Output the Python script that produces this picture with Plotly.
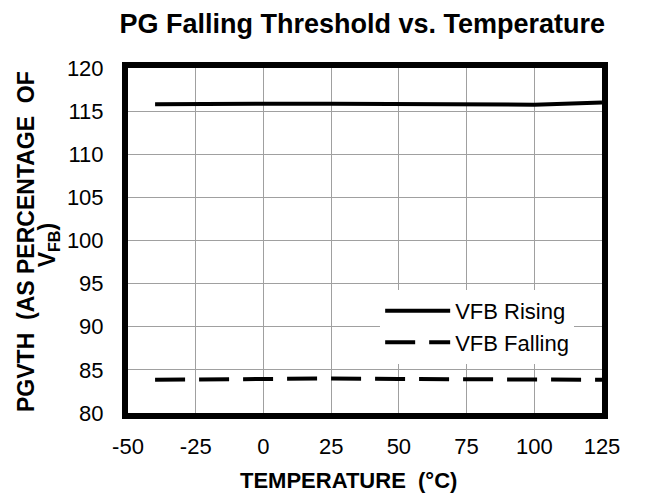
import plotly.graph_objects as go

temps = [-40, -25, 0, 25, 50, 75, 100, 125]
rising = [115.8, 115.85, 115.85, 115.85, 115.8, 115.75, 115.75, 116.0]
falling = [83.85, 83.9, 83.9, 84.0, 83.95, 83.9, 83.85, 83.85]

x_ticks = [-50, -25, 0, 25, 50, 75, 100, 125]
y_ticks = [80, 85, 90, 95, 100, 105, 110, 115, 120]

FONT = "Liberation Sans, Arial, sans-serif"

fig = go.Figure()
fig.add_trace(go.Scatter(x=temps, y=rising, mode="lines", name="VFB Rising",
                         line=dict(color="black", width=4)))
fig.add_trace(go.Scatter(x=temps, y=falling, mode="lines", name="VFB Falling",
                         line=dict(color="black", width=4, dash="30px,14px")))

fig.update_layout(
    width=661, height=497,
    margin=dict(l=128, r=59, t=68, b=84),
    paper_bgcolor="white", plot_bgcolor="white",
    font=dict(family=FONT, color="black", size=22),
    title=dict(text="<b>PG Falling Threshold vs. Temperature</b>",
               font=dict(size=27, family=FONT, color="black"),
               x=0.548, xanchor="center", y=0.953, yanchor="middle"),
    legend=dict(x=0.532, y=0.357, xanchor="left", yanchor="top",
                bgcolor="rgba(255,255,255,1)", borderwidth=0,
                font=dict(size=22, family=FONT), itemwidth=65,
                tracegroupgap=0),
    showlegend=True,
    annotations=[
        dict(text="<b>PGVTH  (AS PERCENTAGE  OF</b>", xref="paper", yref="paper",
             x=-0.2152, y=0.4986, xanchor="center", yanchor="middle",
             textangle=-90, showarrow=False, font=dict(size=23, family=FONT)),
        dict(text="<b>V<sub>FB</sub>)</b>", xref="paper", yref="paper",
             x=-0.166, y=0.487, xanchor="center", yanchor="middle",
             textangle=-90, showarrow=False, font=dict(size=23, family=FONT)),
        dict(text="<b>TEMPERATURE  (°C)</b>", xref="paper", yref="paper",
             x=0.4662, y=-0.1971, xanchor="center", yanchor="middle",
             showarrow=False, font=dict(size=22, family=FONT)),
    ],
)
fig.update_xaxes(range=[-50, 125], tickvals=x_ticks, ticktext=[str(v) for v in x_ticks],
                 showgrid=True, gridcolor="#a0a0a0", gridwidth=1,
                 showline=True, linecolor="black", linewidth=6, mirror=True,
                 ticks="", zeroline=False, ticklabelstandoff=9)
fig.update_yaxes(range=[80, 120], tickvals=y_ticks, ticktext=[str(v) for v in y_ticks],
                 showgrid=True, gridcolor="#a0a0a0", gridwidth=1,
                 showline=True, linecolor="black", linewidth=6, mirror=True,
                 ticks="", zeroline=False, ticklabelstandoff=14)

fig.write_html("out.html", config={"displayModeBar": False},
               post_script="document.body.style.margin='0';document.body.style.overflow='hidden';")
